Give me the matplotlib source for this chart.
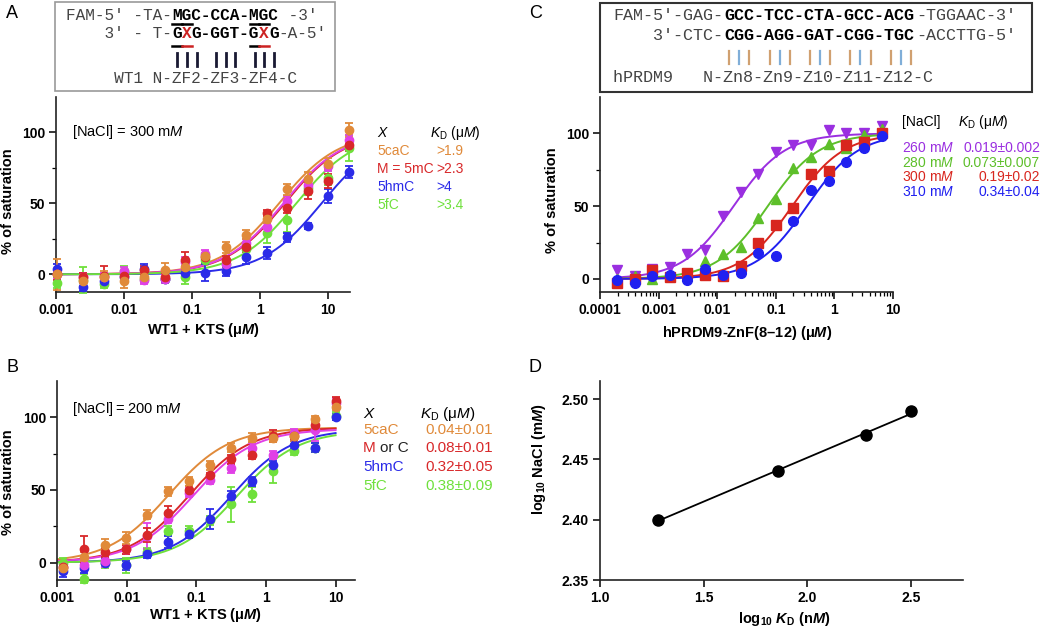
import numpy as np
import matplotlib.pyplot as plt
from matplotlib.lines import Line2D
from matplotlib.patches import Rectangle

plt.rcParams['font.family'] = ['Liberation Sans', 'DejaVu Sans']
plt.rcParams['mathtext.fontset'] = 'custom'
plt.rcParams['mathtext.rm'] = 'Liberation Sans'
plt.rcParams['mathtext.it'] = 'Liberation Sans:italic'
plt.rcParams['mathtext.bf'] = 'Liberation Sans:bold'
plt.rcParams['mathtext.bfit'] = 'Liberation Sans:bold:italic'

# --- Panel A data (WT1 + KTS, 300 mM NaCl) ---
conc_A = [0.00105, 0.0025, 0.005, 0.01, 0.02, 0.04, 0.078, 0.156, 0.3125, 0.625, 1.25, 2.5, 5, 10, 20]
A_5caC = [0, -5, -2, -5, -2, 3, 5, 13, 19, 28, 39, 60, 67, 78, 102]
A_5mC = [0, -2, -1, -1, 3, -2, 10, 12, 10, 19, 43, 47, 59, 66, 91]
A_C = [0, -2, -2, 2, -4, -3, 9, 14, 7, 22, 33, 52, 63, 76, 95]
A_5hmC = [4, -9, -5, -2, 4, -3, 1, 1, 2, 12, 15, 26, 34, 55, 72]
A_5fC = [-6, -4, -7, 2, -3, -3, -2, 10, 7, 18, 29, 38, 61, 68, 89]
A_err_5caC = [11, 3, 4, 5, 3, 5, 3, 2, 4, 3, 3, 4, 5, 4, 5]
A_err_5mC = [4, 3, 7, 3, 3, 3, 6, 3, 3, 3, 2, 4, 6, 5, 4]
A_err_C = [3, 3, 3, 3, 3, 3, 3, 3, 3, 3, 3, 3, 4, 3, 3]
A_err_5hmC = [3, 3, 3, 3, 3, 3, 3, 6, 3, 5, 4, 3, 2, 5, 4]
A_err_5fC = [4, 9, 3, 4, 3, 3, 5, 3, 3, 5, 7, 8, 5, 5, 9]
A_kd_fit = [1.9, 2.3, 2.2, 8.0, 3.4]      # fit curves (uM), order: 5caC, 5mC, C, 5hmC, 5fC
A_bmax_fit = [100, 100, 100, 100, 100]
A_names = ['5caC', 'M = 5mC', '5hmC', '5fC']
A_kd_text = ['>1.9', '>2.3', '>4', '>3.4']

# --- Panel B data (WT1 + KTS, 200 mM NaCl) ---
conc_B = [0.00122, 0.00244, 0.0049, 0.0098, 0.0195, 0.039, 0.078, 0.156, 0.3125, 0.625, 1.25, 2.5, 5, 10]
B_5caC = [-4, 4, 12, 17, 33, 49, 56, 67, 79, 86, 86, 87, 99, 107]
B_5mC = [-3, 9, 7, 9, 19, 34, 50, 60, 71, 74, 87, 87, 95, 111]
B_C = [-3, -2, 1, 9, 18, 30, 48, 57, 65, 79, 74, 89, 91, 110]
B_5hmC = [-6, -4, 0, -2, 6, 14, 20, 30, 46, 56, 67, 81, 79, 100]
B_5fC = [0, -11, 0, -2, 7, 22, 22, 29, 40, 47, 63, 77, 79, 101]
B_err_5caC = [3, 3, 4, 4, 3, 3, 3, 3, 3, 3, 3, 3, 2, 2]
B_err_5mC = [3, 9, 3, 3, 5, 5, 3, 2, 3, 3, 4, 2, 3, 3]
B_err_C = [3, 3, 4, 3, 9, 3, 3, 3, 3, 3, 3, 3, 7, 3]
B_err_5hmC = [4, 3, 3, 3, 3, 4, 3, 7, 3, 3, 3, 3, 3, 2]
B_err_5fC = [3, 3, 4, 5, 3, 3, 3, 3, 12, 5, 8, 3, 3, 3]
B_kd_fit = [0.04, 0.08, 0.09, 0.32, 0.38]
B_bmax_fit = [93, 93, 92, 92, 91]
B_names = ['5caC', 'M or C', '5hmC', '5fC']
B_kd_text = ['0.04\u00b10.01', '0.08\u00b10.01', '0.32\u00b10.05', '0.38\u00b10.09']

# --- Panel C data (hPRDM9-ZnF(8-12)) ---
conc_C = [0.000195, 0.00039, 0.00078, 0.00156, 0.0031, 0.0063, 0.0125, 0.025,
          0.05, 0.1, 0.2, 0.4, 0.8, 1.6, 3.2, 6.4]
C_260 = [6, 2, 7, 8, 17, 20, 43, 60, 72, 87, 92, 92, 102, 100, 100, 105]
C_280 = [0, 2, 0, 2, 2, 12, 17, 22, 42, 55, 76, 84, 93, 90, 99, 103]
C_300 = [-3, 0, 6, 1, 4, 3, 2, 9, 25, 37, 49, 72, 74, 92, 94, 100]
C_310 = [-1, -3, 2, 3, -1, 7, 3, 4, 18, 16, 40, 61, 67, 80, 90, 98]
C_kd = [0.019, 0.073, 0.19, 0.34]
C_bmax = [100, 100, 100, 100]
C_salt = ['260 m$M$', '280 m$M$', '300 m$M$', '310 m$M$']
C_kd_text = ['0.019\u00b10.002', '0.073\u00b10.007', '0.19\u00b10.02', '0.34\u00b10.04']

# --- Panel D data ---
D_logkd = [1.28, 1.86, 2.28, 2.50]
D_lognacl = [2.40, 2.44, 2.47, 2.49]

ORANGE = '#e08a3a'
RED = '#d8282a'
MAGENTA = '#e040e6'
BLUE = '#2b2be8'
GREEN = '#6fe03c'
C_COLS = ['#9a2fe0', '#5dbf2a', '#d8261e', '#2020f0']
C_MARK = ['v', '^', 's', 'o']

W, H = 1050, 629
fig = plt.figure(figsize=(W / 100, H / 100), dpi=100)


def rect(l, t, r, b):
    return [l / W, 1 - b / H, (r - l) / W, (b - t) / H]


def ftext(x, y, s, **kw):
    fig.text(x / W, 1 - y / H, s, **kw)


def fline(x1, y1, x2, y2, **kw):
    fig.add_artist(Line2D([x1 / W, x2 / W], [1 - y1 / H, 1 - y2 / H],
                          transform=fig.transFigure, **kw))


def hill(x, kd, bmax):
    return bmax * x / (kd + x)


def style_axes(ax):
    for s in ['top', 'right']:
        ax.spines[s].set_visible(False)
    for s in ['left', 'bottom']:
        ax.spines[s].set_linewidth(1.2)
        ax.spines[s].set_color('#222222')
    ax.tick_params(direction='out', length=5, width=1.1, pad=3, labelsize=10)
    ax.tick_params(which='minor', direction='out', length=3, width=0.9)
    for lab in ax.get_xticklabels() + ax.get_yticklabels():
        lab.set_fontweight('bold')


def log_xaxis(ax, ticks, labels, minor=False):
    ax.set_xscale('log')
    ax.set_xticks(ticks)
    ax.set_xticklabels(labels)
    if not minor:
        ax.xaxis.set_minor_locator(plt.NullLocator())


def sat_yaxis(ax, lo, hi):
    ax.set_ylim(lo, hi)
    ax.set_yticks([0, 50, 100])
    ax.set_yticks([25, 75], minor=True)


# ---------------- Panel A ----------------
axA = fig.add_axes(rect(56, 97, 350, 292))
xs = np.logspace(-3, np.log10(20), 300)
A_series = [(A_5caC, A_err_5caC, ORANGE), (A_5mC, A_err_5mC, RED), (A_C, A_err_C, MAGENTA),
            (A_5hmC, A_err_5hmC, BLUE), (A_5fC, A_err_5fC, GREEN)]
for (vals, err, col), kd, bm in zip(A_series, A_kd_fit, A_bmax_fit):
    axA.plot(xs, hill(xs, kd, bm), color=col, lw=1.4, zorder=2)
for vals, err, col in A_series[::-1]:
    axA.errorbar(conc_A, vals, yerr=err, fmt='o', color=col, ms=6, capsize=3,
                 elinewidth=1.3, capthick=1.3, zorder=3, clip_on=False)
axA.set_xlim(0.001, 21)
log_xaxis(axA, [0.001, 0.01, 0.1, 1, 10], ['0.001', '0.01', '0.1', '1', '10'])
sat_yaxis(axA, -12.5, 125)
style_axes(axA)

# ---------------- Panel B ----------------
axB = fig.add_axes(rect(57, 381, 355, 580))
xs = np.logspace(-3, 1, 300)
B_series = [(B_5caC, B_err_5caC, ORANGE), (B_5mC, B_err_5mC, RED), (B_C, B_err_C, MAGENTA),
            (B_5hmC, B_err_5hmC, BLUE), (B_5fC, B_err_5fC, GREEN)]
for (vals, err, col), kd, bm in zip(B_series, B_kd_fit, B_bmax_fit):
    axB.plot(xs, hill(xs, kd, bm), color=col, lw=1.4, zorder=2)
for vals, err, col in B_series[::-1]:
    axB.errorbar(conc_B, vals, yerr=err, fmt='o', color=col, ms=6, capsize=3,
                 elinewidth=1.3, capthick=1.3, zorder=3, clip_on=False)
axB.set_xlim(0.001, 19)
log_xaxis(axB, [0.001, 0.01, 0.1, 1, 10], ['0.001', '0.01', '0.1', '1', '10'])
sat_yaxis(axB, -12, 125)
style_axes(axB)

# ---------------- Panel C ----------------
axC = fig.add_axes(rect(600, 97, 893, 292))
xs = np.logspace(np.log10(conc_C[0]), np.log10(conc_C[-1]), 300)
for vals, kd, bm, col, mk in zip([C_260, C_280, C_300, C_310], C_kd, C_bmax, C_COLS, C_MARK):
    axC.plot(xs, hill(xs, kd, bm), color=col, lw=1.4, zorder=2)
    axC.plot(conc_C, vals, linestyle='none', marker=mk, color=col, ms=7, zorder=3, clip_on=False)
axC.set_xlim(1e-4, 10)
log_xaxis(axC, [1e-4, 1e-3, 1e-2, 0.1, 1, 10], ['0.0001', '0.001', '0.01', '0.1', '1', '10'], minor=True)
axC.xaxis.set_minor_locator(plt.matplotlib.ticker.LogLocator(base=10, subs=np.arange(2, 10)))
axC.xaxis.set_minor_formatter(plt.NullFormatter())
sat_yaxis(axC, -9, 125)
style_axes(axC)

# ---------------- Panel D ----------------
axD = fig.add_axes(rect(600, 381, 963, 580))
fit = np.polyfit(D_logkd, D_lognacl, 1)
xf = np.array([min(D_logkd), max(D_logkd)])
axD.plot(xf, np.polyval(fit, xf), color='black', lw=1.3)
axD.plot(D_logkd, D_lognacl, 'o', color='black', ms=8)
axD.set_xlim(1.0, 2.75)
axD.set_ylim(2.35, 2.515)
axD.set_xticks([1.0, 1.5, 2.0, 2.5])
axD.set_xticklabels(['1.0', '1.5', '2.0', '2.5'])
axD.set_yticks([2.35, 2.40, 2.45, 2.50])
axD.set_yticklabels(['2.35', '2.40', '2.45', '2.50'])
style_axes(axD)

# ---------------- axis labels ----------------
lab = dict(fontsize=10.5, fontweight='bold', ha='center', va='center')
ftext(203, 330, 'WT1 + KTS (\u03bc$\\mathbfit{M}$)', **lab)
ftext(205, 615, 'WT1 + KTS (\u03bc$\\mathbfit{M}$)', **lab)
ftext(747, 333, 'hPRDM9-ZnF(8\u201312) (\u03bc$\\mathbfit{M}$)', **lab)
ftext(784, 619, 'log$_{\\mathbf{10}}$ $\\mathbfit{K}_{\\mathbf{D}}$ (n$\\mathbfit{M}$)', **lab)
ftext(8, 201, '% of saturation', rotation=90, **lab)
ftext(8, 482, '% of saturation', rotation=90, **lab)
ftext(552, 200, '% of saturation', rotation=90, **lab)
ftext(539, 459, 'log$_{\\mathbf{10}}$ NaCl (m$\\mathbfit{M}$)', rotation=90, **lab)

# panel letters
for x, y, s in [(12, 14, 'A'), (13, 367, 'B'), (536, 14, 'C'), (535, 367, 'D')]:
    ftext(x, y, s, fontsize=13, ha='center', va='center')

# ---------------- in-plot legends ----------------
leg = dict(fontsize=10, va='center', ha='left')
legB = dict(fontsize=11, va='center', ha='left')
ftext(72, 132, '[NaCl] = 300 m$M$', fontsize=10.5, va='center', ha='left')
ftext(72, 409, '[NaCl]\u2009=\u2009200 m$M$', fontsize=10.5, va='center', ha='left')

ftext(377, 133, '$X$', **leg)
ftext(430, 133, '$K_\\mathrm{D}$ (\u03bc$M$)', **leg)
for i, (nm, kt, col) in enumerate(zip(A_names, A_kd_text, [ORANGE, RED, BLUE, GREEN])):
    y = 151 + i * 18
    ftext(377, y, nm, color=col, **leg)
    ftext(436, y, kt, color=col, **leg)

ftext(363, 414, '$X$', **legB)
ftext(420, 414, '$K_\\mathrm{D}$ (\u03bc$M$)', **legB)
for i, (nm, kt, col, vcol) in enumerate(zip(B_names, B_kd_text, [ORANGE, RED, BLUE, GREEN],
                                             [ORANGE, RED, RED, GREEN])):
    y = 430 + i * 18.5
    if nm == 'M or C':
        ftext(363, y, 'M', color=RED, **legB)
        ftext(380, y, 'or C', color='#222222', **legB)
    else:
        ftext(363, y, nm, color=col, **legB)
    ftext(425, y, kt, color=vcol, **legB)

ftext(902, 122, '[NaCl]', **leg)
ftext(958, 122, '$K_\\mathrm{D}$ (\u03bc$M$)', **leg)
for i, (sl, kt, col) in enumerate(zip(C_salt, C_kd_text, C_COLS)):
    y = 148 + i * 14.7
    ftext(902, y, sl, color=col, **leg)
    ftext(1040, y, kt, color=col, fontsize=10, va='center', ha='right')

# ---------------- sequence boxes ----------------
MONO = ['Liberation Mono', 'DejaVu Sans Mono']
GRAY = '#444444'


def seq_line(x0, y, cw, fs, segs):
    i = 0
    for txt, wt, col in segs:
        ftext(x0 + i * cw, y, txt, family=MONO, fontsize=fs, fontweight=wt,
              color=col, ha='left', va='baseline')
        i += len(txt)


# box A
fig.add_artist(Rectangle((55 / W, 1 - 91 / H), 280 / W, 89 / H, transform=fig.transFigure,
                         fill=False, edgecolor='#999999', lw=1.2))
cwA, fsA, x0A = 9.67, 11.6, 66
seq_line(x0A, 20, cwA, fsA, [('FAM-5\u2032 -TA-', 'normal', GRAY),
                              ('MGC-CCA-MGC', 'bold', 'black'), (' -3\u2032', 'normal', GRAY)])
seq_line(x0A, 38, cwA, fsA, [('    3\u2032 - T-', 'normal', GRAY), ('G', 'bold', 'black'),
                              ('X', 'bold', '#cc2222'), ('G-GGT-G', 'bold', 'black'),
                              ('X', 'bold', '#cc2222'), ('G', 'bold', 'black'),
                              ('-A-5\u2032', 'normal', GRAY)])
seq_line(x0A, 83, cwA, fsA, [('     WT1 N-ZF2-ZF3-ZF4-C', 'normal', GRAY)])
for idx, col, yy in [(11, 'black', 24), (12, 'black', 24), (19, 'black', 24), (20, 'black', 24),
                     (11, 'black', 46), (12, '#cc2222', 46), (19, 'black', 46), (20, '#cc2222', 46)]:
    fline(x0A + idx * cwA, yy, x0A + (idx + 1) * cwA, yy, color=col, lw=1.8)
for idx in [11, 12, 13, 15, 16, 17, 19, 20, 21]:
    xc = x0A + (idx + 0.5) * cwA
    fline(xc, 53, xc, 66, color='#1a1a33', lw=2)

# box C
fig.add_artist(Rectangle((600 / W, 1 - 92 / H), 432 / W, 89 / H, transform=fig.transFigure,
                         fill=False, edgecolor='#333333', lw=1.5))
cwC, fsC, x0C = 10.1, 12.1, 613
seq_line(x0C, 20, cwC, fsC, [('FAM-5\u2032-GAG-', 'normal', GRAY),
                              ('GCC-TCC-CTA-GCC-ACG', 'bold', 'black'),
                              ('-TGGAAC-3\u2032', 'normal', GRAY)])
seq_line(x0C, 40, cwC, fsC, [('    3\u2032-CTC-', 'normal', GRAY),
                              ('CGG-AGG-GAT-CGG-TGC', 'bold', 'black'),
                              ('-ACCTTG-5\u2032', 'normal', GRAY)])
seq_line(x0C, 82, cwC, fsC, [('hPRDM9   N-Zn8-Zn9-Z10-Z11-Z12-C', 'normal', GRAY)])
bar_cols = ['#d0a070', '#80aed8', '#d0a070']
for start in [11, 15, 19, 23, 27]:
    for k in range(3):
        xc = x0C + (start + k + 0.5) * cwC
        fline(xc, 51, xc, 64, color=bar_cols[k], lw=1.6)

fig.savefig('out.png', dpi=100)
